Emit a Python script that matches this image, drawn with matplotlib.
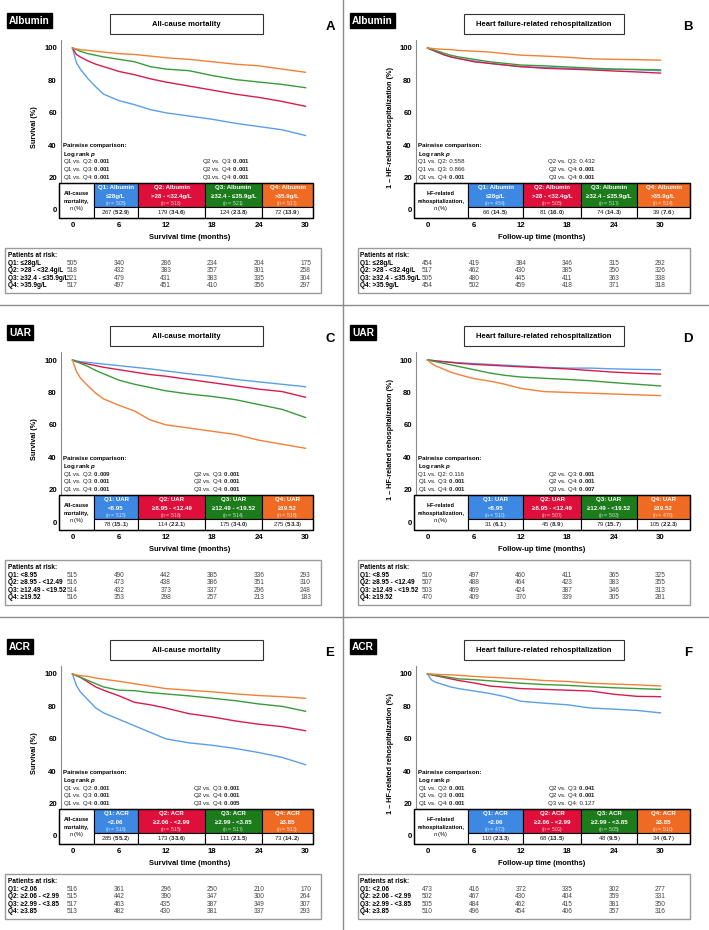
import matplotlib
matplotlib.use('Agg')
import matplotlib.pyplot as plt
from matplotlib.patches import Rectangle
from matplotlib import transforms

plt.rcParams['font.family'] = ['Liberation Sans', 'DejaVu Sans']
plt.rcParams['mathtext.fontset'] = 'custom'
plt.rcParams['mathtext.rm'] = 'Liberation Sans'
plt.rcParams['mathtext.it'] = 'Liberation Sans:italic'
plt.rcParams['mathtext.bf'] = 'Liberation Sans:bold'
plt.rcParams['mathtext.sf'] = 'Liberation Sans:bold:italic'

W, H = 709, 930

# ---------------- data ----------------
times = [0, 0.5, 1, 2, 3, 4, 6, 8, 10, 12, 15, 18, 21, 24, 27, 30]
x_ticks = [0, 6, 12, 18, 24, 30]
y_ticks = [0, 20, 40, 60, 80, 100]
risk_times = [0, 6, 12, 18, 24, 30]

# A: Albumin, all-cause mortality
alb_mort_q1 = [100, 91, 87, 81, 76, 71.5, 67.5, 65, 62, 60, 58, 56, 53.5, 51.5, 49.5, 46]
alb_mort_q2 = [100, 96, 94.5, 92, 90, 88.5, 85.5, 83.5, 81, 79, 76.5, 74, 71.5, 69.5, 67, 64]
alb_mort_q3 = [100, 99, 98, 96.5, 95.5, 94.5, 93, 91.5, 88.5, 87, 86, 83, 80.5, 79, 77.5, 75.5]
alb_mort_q4 = [100, 99.5, 99, 98.5, 98, 97.5, 96.5, 96, 95, 94, 93, 91.5, 90, 89, 87, 85]
# B: Albumin, HF rehospitalization
alb_hf_q1 = [100, 99, 98, 96, 94.5, 93.5, 92, 90.5, 89.5, 88.5, 88, 87.5, 87, 86.8, 86.5, 86]
alb_hf_q2 = [100, 99, 98, 96, 94.5, 93.5, 91.5, 90.5, 89.5, 88.5, 87.5, 87, 86.5, 85.8, 85.2, 84.5]
alb_hf_q3 = [100, 99.3, 98.5, 97, 95.5, 94.5, 93, 91.5, 90.5, 89.5, 89, 88.3, 87.6, 87, 86.8, 86.5]
alb_hf_q4 = [100, 99.8, 99.5, 99.2, 99, 98.5, 98, 97.5, 96.5, 95.6, 95, 94.3, 93.3, 93, 92.8, 92.5]
# C: UAR, all-cause mortality
uar_mort_q1 = [100, 99.5, 99, 98.5, 98, 97.5, 96.5, 95.5, 94.5, 93.3, 91.5, 90, 88, 86.5, 85, 83.5]
uar_mort_q2 = [100, 99, 98.5, 97.5, 96.5, 95.5, 94, 92.5, 91, 90, 88, 86, 84, 82, 80.5, 77]
uar_mort_q3 = [100, 99, 98, 96, 93.5, 91.5, 87.5, 85, 83, 81, 79, 77.5, 75.5, 72.5, 69.5, 64.5]
uar_mort_q4 = [100, 93, 89, 84, 79.5, 76, 72, 68.5, 63, 60, 58, 56, 54, 50.5, 48, 45.5]
# D: UAR, HF rehospitalization
uar_hf_q1 = [100, 99.8, 99.5, 99, 98.7, 98.3, 97.8, 97.3, 96.8, 96.3, 95.5, 95, 95, 94.5, 94.2, 94]
uar_hf_q2 = [100, 99.8, 99.5, 99, 98.5, 98, 97.3, 96.8, 96.3, 95.8, 95.2, 94.5, 93.5, 92.5, 91.8, 91.3]
uar_hf_q3 = [100, 99.5, 99, 98, 97, 96, 94, 92, 90.5, 89.5, 88.7, 88, 87.2, 86, 85, 84]
uar_hf_q4 = [100, 98, 96.5, 94.5, 92.5, 91, 88.5, 87, 85, 82.5, 80.5, 80, 79.5, 79, 78.5, 78]
# E: ACR, all-cause mortality
acr_mort_q1 = [100, 93, 89, 84, 79, 76, 72, 68, 64, 60, 57.5, 56, 54, 51.5, 48.5, 44]
acr_mort_q2 = [100, 99, 98, 95, 92, 90, 86.5, 82.5, 81, 79, 75.5, 73.5, 71, 69, 67.5, 65]
acr_mort_q3 = [100, 99, 98, 96, 94, 92, 90, 89.7, 88.5, 87.7, 86.5, 85, 83.5, 81.5, 80, 77]
acr_mort_q4 = [100, 99.5, 99, 98.5, 97.5, 96.8, 95.5, 94, 92.5, 91, 90, 89, 87.7, 86.7, 86, 85]
# F: ACR, HF rehospitalization
acr_hf_q1 = [100, 96.4, 95, 93.5, 92, 91, 89.5, 88, 86, 83.2, 82, 81, 79, 78.3, 77.5, 76]
acr_hf_q2 = [100, 99.5, 99, 98, 97, 96, 94.5, 92.6, 91.8, 91, 90.5, 90, 89.5, 87.5, 86.2, 86]
acr_hf_q3 = [100, 99.6, 99.2, 98.5, 97.8, 97, 96.5, 95.8, 95, 94.3, 93.5, 93, 92.2, 91.5, 91, 90.5]
acr_hf_q4 = [100, 100, 99.8, 99.6, 99.5, 99.2, 98.5, 98, 97.5, 97, 96, 95.4, 94.3, 93.8, 93.3, 92.6]

# quartile range labels
alb_ranges = ['≤28g/L', '>28 - <32.4g/L', '≥32.4 - ≤35.9g/L', '>35.9g/L']
uar_ranges = ['<8.95', '≥8.95 - <12.49', '≥12.49 - <19.52', '≥19.52']
acr_ranges = ['<2.06', '≥2.06 - <2.99', '≥2.99 - <3.85', '≥3.85']

# group sizes, events, percentages
alb_mort_n = [505, 518, 521, 517]
alb_mort_ev = [267, 179, 124, 72]
alb_mort_pct = ['52.9', '34.6', '23.8', '13.9']
alb_hf_n = [454, 505, 517, 514]
alb_hf_ev = [66, 81, 74, 39]
alb_hf_pct = ['14.5', '16.0', '14.3', '7.6']
uar_mort_n = [515, 516, 514, 516]
uar_mort_ev = [78, 114, 175, 275]
uar_mort_pct = ['15.1', '22.1', '34.0', '53.3']
uar_hf_n = [510, 507, 503, 470]
uar_hf_ev = [31, 45, 79, 105]
uar_hf_pct = ['6.1', '8.9', '15.7', '22.3']
acr_mort_n = [516, 515, 517, 513]
acr_mort_ev = [285, 173, 111, 73]
acr_mort_pct = ['55.2', '33.6', '21.5', '14.2']
acr_hf_n = [473, 502, 505, 510]
acr_hf_ev = [110, 68, 48, 34]
acr_hf_pct = ['23.3', '13.5', '9.5', '6.7']

# pairwise log-rank p (Q1vQ2, Q1vQ3, Q1vQ4, Q2vQ3, Q2vQ4, Q3vQ4)
pair_names = ['Q1 vs. Q2:', 'Q1 vs. Q3:', 'Q1 vs. Q4:', 'Q2 vs. Q3:', 'Q2 vs. Q4:', 'Q3 vs. Q4:']
alb_mort_p = ['0.001', '0.001', '0.001', '0.001', '0.001', '0.001']
alb_hf_p = ['0.558', '0.866', '0.001', '0.432', '0.001', '0.001']
uar_mort_p = ['0.009', '0.001', '0.001', '0.001', '0.001', '0.001']
uar_hf_p = ['0.116', '0.001', '0.001', '0.001', '0.001', '0.007']
acr_mort_p = ['0.001', '0.001', '0.001', '0.001', '0.001', '0.005']
acr_hf_p = ['0.001', '0.001', '0.001', '0.041', '0.001', '0.127']

# patients at risk
alb_mort_risk = [[505, 340, 286, 234, 204, 175], [518, 432, 383, 357, 301, 258],
                 [521, 479, 431, 383, 335, 304], [517, 497, 451, 410, 356, 297]]
alb_hf_risk = [[454, 419, 384, 346, 315, 292], [517, 462, 430, 385, 350, 326],
               [505, 480, 445, 411, 363, 338], [454, 502, 459, 418, 371, 318]]
uar_mort_risk = [[515, 490, 442, 385, 336, 293], [516, 473, 438, 386, 351, 310],
                 [514, 432, 373, 337, 296, 248], [516, 353, 298, 257, 213, 183]]
uar_hf_risk = [[510, 497, 460, 411, 365, 325], [507, 488, 464, 423, 383, 355],
               [503, 469, 424, 387, 346, 313], [470, 409, 370, 339, 305, 281]]
acr_mort_risk = [[516, 361, 296, 250, 210, 170], [515, 442, 390, 347, 300, 264],
                 [517, 463, 435, 387, 349, 307], [513, 482, 430, 381, 337, 293]]
acr_hf_risk = [[473, 416, 372, 335, 302, 277], [502, 467, 430, 404, 359, 331],
               [505, 484, 462, 415, 381, 350], [510, 496, 454, 406, 357, 316]]

# ---------------- styling ----------------
LINE_COLORS = ['#5b9ee8', '#d81b4b', '#3b9a3b', '#f28038']
CELL_COLORS = ['#3d88e2', '#df0f3b', '#1c7c1c', '#ef6b24']
NTEXT_COLORS = ['#cfe2fb', '#f9c6d2', '#c4e6c4', '#fde0cc']
ROW_OFF = [0, 312, 626]
PPM = 233 / 30.0      # px per month
PPU = 1.62            # px per percent

fig = plt.figure(figsize=(W / 100, H / 100), dpi=100)
ov = fig.add_axes([0, 0, 1, 1])
ov.set_xlim(0, W)
ov.set_ylim(H, 0)
ov.axis('off')
ov.set_zorder(10)
ov.patch.set_alpha(0)

SM = 4.4

panels = [
    dict(row=0, col=0, tag='Albumin', letter='A', mort=True, name='Albumin', ranges=alb_ranges,
         curves=[alb_mort_q1, alb_mort_q2, alb_mort_q3, alb_mort_q4], n=alb_mort_n, ev=alb_mort_ev,
         pct=alb_mort_pct, p=alb_mort_p, risk=alb_mort_risk, pcol=202),
    dict(row=0, col=1, tag='Albumin', letter='B', mort=False, name='Albumin', ranges=alb_ranges,
         curves=[alb_hf_q1, alb_hf_q2, alb_hf_q3, alb_hf_q4], n=alb_hf_n, ev=alb_hf_ev,
         pct=alb_hf_pct, p=alb_hf_p, risk=alb_hf_risk, pcol=548),
    dict(row=1, col=0, tag='UAR', letter='C', mort=True, name='UAR', ranges=uar_ranges,
         curves=[uar_mort_q1, uar_mort_q2, uar_mort_q3, uar_mort_q4], n=uar_mort_n, ev=uar_mort_ev,
         pct=uar_mort_pct, p=uar_mort_p, risk=uar_mort_risk, pcol=193),
    dict(row=1, col=1, tag='UAR', letter='D', mort=False, name='UAR', ranges=uar_ranges,
         curves=[uar_hf_q1, uar_hf_q2, uar_hf_q3, uar_hf_q4], n=uar_hf_n, ev=uar_hf_ev,
         pct=uar_hf_pct, p=uar_hf_p, risk=uar_hf_risk, pcol=548),
    dict(row=2, col=0, tag='ACR', letter='E', mort=True, name='ACR', ranges=acr_ranges,
         curves=[acr_mort_q1, acr_mort_q2, acr_mort_q3, acr_mort_q4], n=acr_mort_n, ev=acr_mort_ev,
         pct=acr_mort_pct, p=acr_mort_p, risk=acr_mort_risk, pcol=193),
    dict(row=2, col=1, tag='ACR', letter='F', mort=False, name='ACR', ranges=acr_ranges,
         curves=[acr_hf_q1, acr_hf_q2, acr_hf_q3, acr_hf_q4], n=acr_hf_n, ev=acr_hf_ev,
         pct=acr_hf_pct, p=acr_hf_p, risk=acr_hf_risk, pcol=548),
]

LEFT_EDGES = [59, 94, 138, 205, 262, 313]
RIGHT_EDGES = [414, 468, 523, 581, 637, 690]

# separators
ov.plot([0, W], [305, 305], color='#8a8a8a', lw=1.0)
ov.plot([0, W], [617, 617], color='#8a8a8a', lw=1.0)
ov.plot([343, 343], [0, H], color='#8a8a8a', lw=1.0)

for P in panels:
    r, c = P['row'], P['col']
    yo = ROW_OFF[r]
    xo = 0 if c == 0 else 355
    spine = 61 + xo
    right = 313 if c == 0 else 690
    top, bottom = 40 + yo, 218 + yo
    d0x = 72.5 + xo
    d0y = 210 + yo
    ax = fig.add_axes([spine / W, 1 - bottom / H, (right - spine) / W, (bottom - top) / H])
    ax.set_xlim((spine - d0x) / PPM, (right - d0x) / PPM)
    ax.set_ylim((d0y - bottom) / PPU, (d0y - top) / PPU)
    ax.patch.set_alpha(0)
    for s in ['top', 'right', 'bottom']:
        ax.spines[s].set_visible(False)
    ax.spines['left'].set_color('#8a8a8a')
    ax.spines['left'].set_linewidth(0.8)
    ax.spines['left'].set_bounds((d0y - (183 + yo)) / PPU, (d0y - top) / PPU)
    ax.set_xticks(x_ticks)
    ax.set_xticklabels([str(t) for t in x_ticks], fontweight='bold', fontsize=5.6)
    ax.set_yticks(y_ticks)
    ax.set_yticklabels([str(t) for t in y_ticks], fontweight='bold', fontsize=5.6)
    ax.tick_params(axis='x', length=0, pad=3.0)
    ax.tick_params(axis='y', length=0, pad=3.0)
    for i, vals in enumerate(P['curves']):
        ax.plot(times, vals, color=LINE_COLORS[i], lw=1.0)

    # tag box
    ov.text(9 + (0 if c == 0 else 343), 20.5 + yo, P['tag'], color='white', fontsize=7.3,
            fontweight='bold', ha='left', va='center',
            bbox=dict(boxstyle='square,pad=0.22', fc='black', ec='black'))
    # title box
    tx0, tx1 = (110, 263) if c == 0 else (464, 624)
    ov.add_patch(Rectangle((tx0, 14 + yo), tx1 - tx0, 20, fc='white', ec='#333333', lw=0.8))
    ov.text((tx0 + tx1) / 2, 24 + yo, 'All-cause mortality' if P['mort'] else
            'Heart failure-related rehospitalization', fontsize=5.5, fontweight='bold',
            ha='center', va='center')
    # letter
    ov.text(330 if c == 0 else 688, 27 + yo, P['letter'], fontsize=9.5, fontweight='bold',
            ha='center', va='center')
    # y label
    ov.text(35 + xo, 127 + yo, 'Survival (%)' if P['mort'] else
            '1 – HF-related rehospitalization (%)', rotation=90, fontsize=5.2,
            fontweight='bold', ha='center', va='center')
    # x label
    ov.text(190 if c == 0 else 542, 237 + yo, 'Survival time (months)' if P['mort'] else
            'Follow-up time (months)', fontsize=5.4, fontweight='bold', ha='center', va='center')

    # pairwise comparison
    px = 63 + xo
    ov.text(px, 146 + yo, 'Pairwise comparison:', fontsize=SM, fontweight='bold', va='center')
    ov.text(px, 154.5 + yo, r'Log rank $\mathsf{p}$', fontsize=SM, fontweight='bold', va='center')
    rows_y = [162, 169.5, 177]
    for k in range(6):
        pv = P['p'][k]
        ptxt = r'$\mathbf{' + pv + '}$' if float(pv) < 0.05 else pv
        xx = px if k < 3 else P['pcol']
        ov.text(xx, rows_y[k % 3] + yo, pair_names[k] + ' ' + ptxt, fontsize=SM,
                color='#222222', va='center')

    # table
    edges = LEFT_EDGES if c == 0 else RIGHT_EDGES
    t_top, t_mid, t_bot = 183 + yo, 207 + yo, 218 + yo
    ov.add_patch(Rectangle((edges[0], t_top), edges[1] - edges[0], t_bot - t_top,
                           fc='white', ec='black', lw=0.8))
    first = ['All-cause', 'mortality,'] if P['mort'] else ['HF-related', 'rehospitalization,']
    fcx = (edges[0] + edges[1]) / 2
    ov.text(fcx, 193 + yo, first[0], fontsize=4.1, fontweight='bold', ha='center', va='center')
    ov.text(fcx, 201 + yo, first[1], fontsize=4.1, fontweight='bold', ha='center', va='center')
    ov.text(fcx, 208.5 + yo, r'$\mathit{n}$ (%)', fontsize=4.1, ha='center', va='center')
    for i in range(4):
        x0, x1 = edges[i + 1], edges[i + 2]
        cx = (x0 + x1) / 2
        ov.add_patch(Rectangle((x0, t_top), x1 - x0, t_mid - t_top, fc=CELL_COLORS[i],
                               ec='black', lw=0.8))
        ov.add_patch(Rectangle((x0, t_mid), x1 - x0, t_bot - t_mid, fc='white',
                               ec='black', lw=0.8))
        ov.text(cx, 187.5 + yo, 'Q%d: %s' % (i + 1, P['name']), color='white', fontsize=SM,
                fontweight='bold', ha='center', va='center')
        ov.text(cx, 196 + yo, P['ranges'][i], color='white', fontsize=SM,
                fontweight='bold', ha='center', va='center')
        ov.text(cx, 203.5 + yo, r'($\mathit{n}$ = %d)' % P['n'][i], color=NTEXT_COLORS[i],
                fontsize=3.7, ha='center', va='center')
        ov.text(cx, 212.8 + yo, '%d ($\\mathbf{%s}$)' % (P['ev'][i], P['pct'][i]),
                fontsize=SM, color='#222222', ha='center', va='center')
    ov.add_patch(Rectangle((edges[0], t_top), edges[-1] - edges[0], t_bot - t_top,
                           fc='none', ec='black', lw=1.0))

    # patients at risk
    bx0, bx1 = (5, 321) if c == 0 else (358, 690)
    ov.add_patch(Rectangle((bx0, 248 + yo), bx1 - bx0, 45, fc='white', ec='#9a9a9a', lw=1.0))
    lx = 8 if c == 0 else 360
    ov.text(lx, 255 + yo, 'Patients at risk:', fontsize=4.7, fontweight='bold', va='center')
    blend = transforms.blended_transform_factory(ax.transData, ov.transData)
    ry = [263, 270.5, 278, 285.5]
    for i in range(4):
        ov.text(lx, ry[i] + yo, 'Q%d: %s' % (i + 1, P['ranges'][i]), fontsize=4.7,
                fontweight='bold', va='center')
        for j, t in enumerate(risk_times):
            ov.text(t, ry[i] + yo, str(P['risk'][i][j]), transform=blend, fontsize=4.7,
                    color='#444444', ha='center', va='center')

fig.savefig('out.png', dpi=100)
